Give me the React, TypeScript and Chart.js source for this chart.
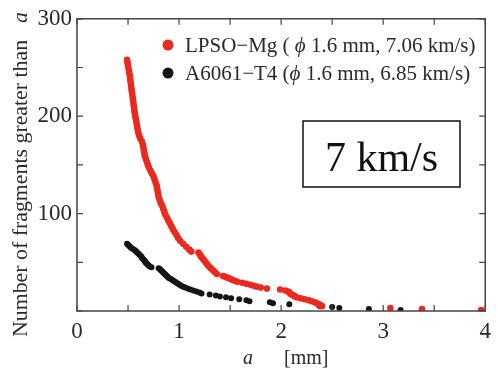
import React, { useEffect, useRef } from "react";
import { Chart, registerables } from "chart.js";
Chart.register(...registerables);

// LPSO-Mg (red) cumulative fragment counts
const redX = [0.49, 0.495, 0.5, 0.505, 0.51, 0.515, 0.52, 0.523, 0.527, 0.53, 0.534, 0.538, 0.542, 0.546, 0.55, 0.553, 0.557, 0.56, 0.565, 0.57, 0.575, 0.58, 0.585, 0.59, 0.595, 0.6, 0.61, 0.62, 0.635, 0.645, 0.65, 0.655, 0.66, 0.665, 0.675, 0.685, 0.695, 0.705, 0.72, 0.735, 0.75, 0.76, 0.77, 0.78, 0.785, 0.79, 0.795, 0.8, 0.81, 0.82, 0.835, 0.845, 0.855, 0.865, 0.88, 0.895, 0.91, 0.925, 0.94, 0.955, 0.975, 0.99, 1.01, 1.04, 1.07, 1.1, 1.12, 1.19, 1.205, 1.215, 1.23, 1.245, 1.26, 1.275, 1.29, 1.31, 1.33, 1.35, 1.37, 1.43, 1.455, 1.48, 1.5, 1.52, 1.545, 1.57, 1.62, 1.66, 1.7, 1.73, 1.76, 1.8, 1.86, 1.99, 2.04, 2.07, 2.08, 2.09, 2.1, 2.12, 2.135, 2.15, 2.19, 2.23, 2.27, 2.3, 2.33, 2.35, 2.37, 2.385, 2.4, 3.07, 3.38, 3.96];
const redY = [258, 255, 252, 249, 246, 243, 240, 237, 234, 231, 228, 225, 222, 219, 216, 213, 210, 207, 204, 201, 198, 195, 192, 189, 186, 183, 180, 177, 174, 171, 168, 165, 162, 159, 156, 153, 150, 147, 144, 141, 138, 135, 132, 129, 126, 123, 120, 117, 114, 111, 108, 105, 102, 99, 96, 93, 90, 87, 84, 81, 78, 75, 72, 69, 66, 63, 61, 60, 58, 56, 54, 52, 50, 48, 46, 44, 42, 40, 38, 36, 35, 34, 33, 32, 31, 30, 29, 28, 27, 26, 25, 24, 23, 22, 21, 20, 19, 18, 17, 16, 15, 14, 13, 12, 11, 10, 9, 8, 7, 6, 5, 3, 2, 1];

// A6061-T4 (black)
const blackX = [0.49, 0.5, 0.51, 0.52, 0.53, 0.545, 0.56, 0.57, 0.58, 0.59, 0.6, 0.61, 0.62, 0.63, 0.635, 0.64, 0.65, 0.66, 0.665, 0.67, 0.68, 0.69, 0.7, 0.71, 0.73, 0.8, 0.81, 0.82, 0.83, 0.84, 0.85, 0.86, 0.87, 0.88, 0.89, 0.9, 0.915, 0.93, 0.945, 0.96, 0.975, 0.99, 1.005, 1.02, 1.04, 1.06, 1.085, 1.11, 1.14, 1.17, 1.2, 1.22, 1.3, 1.36, 1.4, 1.46, 1.51, 1.59, 1.66, 1.69, 1.89, 1.92, 2.08, 2.37, 2.38, 2.5, 2.57, 2.86, 3.17];
const blackY = [69, 68, 67, 66, 65, 64, 63, 62, 61, 60, 59, 58, 57, 56, 55, 54, 53, 52, 51, 50, 49, 48, 47, 46, 45, 44, 43, 42, 41, 40, 39, 38, 37, 36, 35, 34, 33, 32, 31, 30, 29, 28, 27, 26, 25, 24, 23, 22, 21, 20, 19, 18, 17, 16, 15, 14, 13, 12, 11, 10, 9, 8, 7, 6, 5, 4, 3, 2, 1];

const xTickValues = [0, 1, 2, 3, 4];
const yTickValues = [100, 200, 300];
const xMinorStep = 0.5;
const yMinorStep = 50;

const seriesNames = ["LPSO−Mg", "A6061−T4"];
const legendPre = ["LPSO−Mg ( ", "A6061−T4 ("];
const legendPhi = "ϕ";
const legendPost = [" 1.6 mm, 7.06 km/s)", " 1.6 mm, 6.85 km/s)"];
const boxText = "7 km/s";
const yTitle = "Number of fragments greater than";
const italicVar = "a";
const xUnit = "[mm]";

const RED = "#ea2a1e";
const BLACK = "#151515";
const AXIS = "#444";
const TEXT = "#2a2a2a";
const SERIF = "'Liberation Serif', 'Times New Roman', serif";

const decor = {
  id: "decor",
  afterDatasetsDraw(chart: any) {
    const ctx = chart.ctx as CanvasRenderingContext2D;
    const xs = chart.scales.x;
    const ys = chart.scales.y;
    const { left, right, top, bottom } = chart.chartArea;
    ctx.save();
    // frame
    ctx.strokeStyle = AXIS;
    ctx.lineWidth = 1.5;
    ctx.strokeRect(left, top, right - left, bottom - top);
    // ticks
    const tl = 6;
    ctx.lineWidth = 1.2;
    ctx.beginPath();
    for (let v = xs.min; v <= xs.max + 1e-9; v += xMinorStep) {
      const px = xs.getPixelForValue(v);
      ctx.moveTo(px, bottom); ctx.lineTo(px, bottom - tl);
      ctx.moveTo(px, top); ctx.lineTo(px, top + tl);
    }
    for (let v = ys.min; v <= ys.max + 1e-9; v += yMinorStep) {
      const py = ys.getPixelForValue(v);
      ctx.moveTo(left, py); ctx.lineTo(left + tl, py);
      ctx.moveTo(right, py); ctx.lineTo(right - tl, py);
    }
    ctx.stroke();

    // legend
    const rows = [
      { color: RED, y: 45 },
      { color: BLACK, y: 73 },
    ];
    rows.forEach((r, i) => {
      ctx.fillStyle = r.color;
      ctx.beginPath();
      ctx.arc(168, r.y, 5.5, 0, Math.PI * 2);
      ctx.fill();
      ctx.fillStyle = TEXT;
      ctx.textBaseline = "middle";
      ctx.textAlign = "left";
      let x = 185;
      ctx.font = `21px ${SERIF}`;
      ctx.fillText(legendPre[i], x, r.y + 1);
      x += ctx.measureText(legendPre[i]).width;
      ctx.font = `italic 21px ${SERIF}`;
      ctx.fillText(legendPhi, x, r.y + 1);
      x += ctx.measureText(legendPhi).width;
      ctx.font = `21px ${SERIF}`;
      ctx.fillText(legendPost[i], x, r.y + 1);
    });

    // box
    ctx.fillStyle = "#fff";
    ctx.fillRect(303, 121, 157, 66);
    ctx.strokeStyle = "#111";
    ctx.lineWidth = 1.5;
    ctx.strokeRect(303, 121, 157, 66);
    ctx.fillStyle = "#111";
    ctx.font = `42px ${SERIF}`;
    ctx.textAlign = "center";
    ctx.textBaseline = "alphabetic";
    ctx.fillText(boxText, 381.5, 171);

    // y title
    ctx.save();
    ctx.translate(27, 337);
    ctx.rotate(-Math.PI / 2);
    ctx.scale(1.04, 1);
    ctx.fillStyle = TEXT;
    ctx.textAlign = "left";
    ctx.textBaseline = "alphabetic";
    ctx.font = `21px ${SERIF}`;
    ctx.fillText(yTitle, 0, 0);
    ctx.font = `italic 21px ${SERIF}`;
    ctx.fillText(italicVar, 302, 0);
    ctx.restore();

    // x title
    ctx.fillStyle = TEXT;
    ctx.textAlign = "left";
    ctx.textBaseline = "alphabetic";
    ctx.font = `italic 20px ${SERIF}`;
    ctx.fillText(italicVar, 243, 364);
    ctx.font = `20px ${SERIF}`;
    ctx.fillText(xUnit, 284, 364);
    ctx.restore();
  },
};

export default function App() {
  const ref = useRef<HTMLCanvasElement>(null);
  useEffect(() => {
    document.body.style.margin = "0";
    const chart = new Chart(ref.current!, {
      type: "scatter",
      data: {
        datasets: [
          {
            label: seriesNames[0],
            data: redX.map((x, i) => ({ x, y: redY[i] })),
            backgroundColor: RED,
            borderWidth: 0,
            pointRadius: 3.3,
          },
          {
            label: seriesNames[1],
            data: blackX.map((x, i) => ({ x, y: blackY[i] })),
            backgroundColor: BLACK,
            borderWidth: 0,
            pointRadius: 3,
          },
        ],
      },
      plugins: [decor],
      options: {
        responsive: false,
        animation: false,
        layout: { padding: { top: 15, right: 7, left: 0, bottom: 0 } },
        plugins: { legend: { display: false }, tooltip: { enabled: false } },
        scales: {
          x: {
            type: "linear",
            min: 0,
            max: 4,
            afterBuildTicks: (s: any) => { s.ticks = xTickValues.map((v) => ({ value: v })); },
            afterFit: (s: any) => { s.height = 59; },
            grid: { display: false, drawTicks: false },
            border: { display: false },
            ticks: { color: TEXT, padding: 7, font: { family: SERIF, size: 23 } },
          },
          y: {
            type: "linear",
            min: 0,
            max: 300,
            afterBuildTicks: (s: any) => { s.ticks = yTickValues.map((v) => ({ value: v })); },
            afterFit: (s: any) => { s.width = 77; },
            grid: { display: false, drawTicks: false },
            border: { display: false },
            ticks: { color: TEXT, padding: 5, font: { family: SERIF, size: 23 } },
          },
        },
      },
    });
    return () => chart.destroy();
  }, []);
  return <canvas ref={ref} width={498} height={370} style={{ display: "block" }} />;
}
